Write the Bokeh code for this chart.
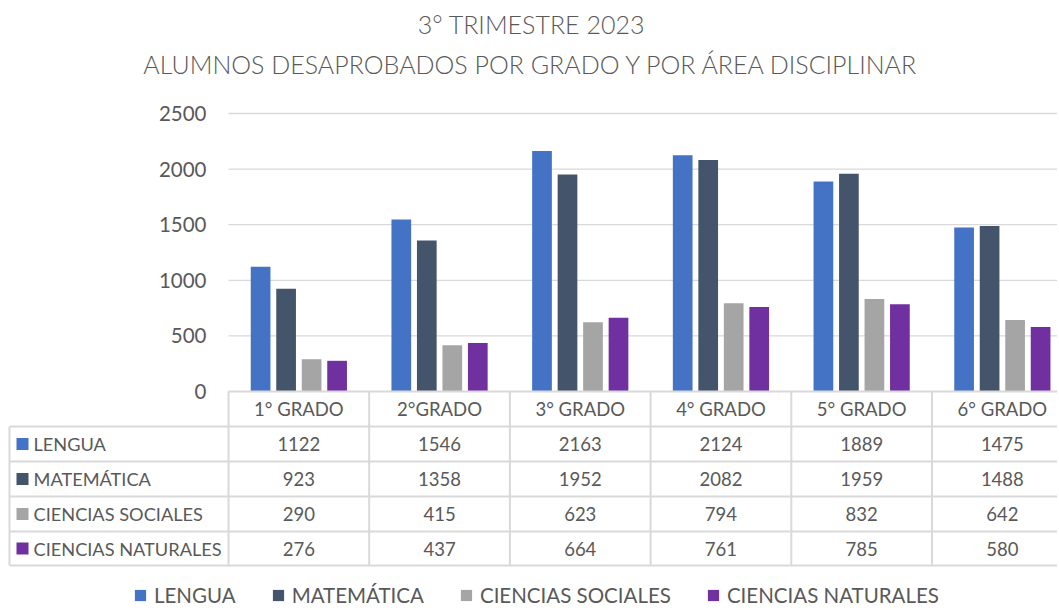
from bokeh.plotting import figure
from bokeh.models import Range1d, ColumnDataSource
from bokeh.core.properties import value
from bokeh.embed import file_html
from bokeh.resources import INLINE

# ---------------- data ----------------
title_line1 = "3° TRIMESTRE 2023"
title_line2 = "ALUMNOS DESAPROBADOS POR GRADO Y POR ÁREA DISCIPLINAR"
grades = ["1° GRADO", "2°GRADO", "3° GRADO", "4° GRADO", "5° GRADO", "6° GRADO"]
series_names = ["LENGUA", "MATEMÁTICA", "CIENCIAS SOCIALES", "CIENCIAS NATURALES"]
lengua = [1122, 1546, 2163, 2124, 1889, 1475]
matematica = [923, 1358, 1952, 2082, 1959, 1488]
ciencias_sociales = [290, 415, 623, 794, 832, 642]
ciencias_naturales = [276, 437, 664, 761, 785, 580]
y_ticks = [0, 500, 1000, 1500, 2000, 2500]

series_values = [lengua, matematica, ciencias_sociales, ciencias_naturales]
colors = ["#4472C4", "#44546A", "#A5A5A5", "#7030A0"]

FONT = "Lato"
TXT = "#595959"
LINE = "#D9D9D9"

# ---------------- layout helpers (image pixel -> data) ----------------
FIG_W, FIG_H, OFF = 1057, 608, 0
X0_IMG, COL_W = 228.0, 140.7
ZERO_IMG, TOP_IMG = 391.0, 113.0
PX_PER_UNIT = (ZERO_IMG - TOP_IMG) / 2500.0


def dx(img_x):
    return (img_x - X0_IMG) / COL_W


def dy(img_y):
    return (ZERO_IMG - img_y) / PX_PER_UNIT


p = figure(width=FIG_W, height=FIG_H, output_backend="svg", toolbar_location=None,
           x_range=Range1d(dx(OFF), dx(OFF + FIG_W)),
           y_range=Range1d(dy(OFF + FIG_H), dy(OFF)),
           x_axis_location=None, y_axis_location=None, min_border=0)
p.outline_line_color = None
p.grid.visible = False
p.background_fill_color = "white"

x_end = dx(OFF + FIG_W) + 1

# gridlines
p.segment(x0=[0] * (len(y_ticks) - 1), x1=[x_end] * (len(y_ticks) - 1),
          y0=y_ticks[1:], y1=y_ticks[1:], line_color=LINE, line_width=1.3)

# y tick labels
p.text(x=[dx(206)] * len(y_ticks), y=y_ticks, text=[str(t) for t in y_ticks],
       text_font=value(FONT), text_font_size="20.5px", text_color=TXT,
       text_align="right", text_baseline="middle")

# bars
n = len(grades)
bar_w = 19.7 / COL_W
step = 25.5 / COL_W
for j, (name, vals, c) in enumerate(zip(series_names, series_values, colors)):
    xs = [i + 0.5 + (j - 1.5) * step for i in range(n)]
    src = ColumnDataSource(dict(x=xs, top=vals))
    p.vbar(x="x", top="top", width=bar_w, bottom=0, source=src, fill_color=c,
           line_color=None, legend_label=name)

# data table lines
row_lines_img = [426, 461, 496, 531, 565]
p.segment(x0=[0], x1=[x_end], y0=[0], y1=[0], line_color=LINE, line_width=2)
p.segment(x0=[dx(9)] * len(row_lines_img), x1=[x_end] * len(row_lines_img),
          y0=[dy(v) for v in row_lines_img], y1=[dy(v) for v in row_lines_img],
          line_color=LINE, line_width=2)
p.segment(x0=list(range(n + 1)), x1=list(range(n + 1)),
          y0=[0] * (n + 1), y1=[dy(565)] * (n + 1), line_color=LINE, line_width=2)
p.segment(x0=[dx(9)], x1=[dx(9)], y0=[dy(426)], y1=[dy(565)], line_color=LINE, line_width=2)

# category labels
p.text(x=[i + 0.5 for i in range(n)], y=[dy(408)] * n, text=grades,
       text_font=value(FONT), text_font_size="18.5px", text_color=TXT,
       text_align="center", text_baseline="middle")

# rows
row_centers = [(a + b) / 2 for a, b in zip([426] + row_lines_img[1:-1], row_lines_img[1:])]
for j, (name, vals, c) in enumerate(zip(series_names, series_values, colors)):
    yc = dy(row_centers[j])
    p.rect(x=[dx(22)], y=[yc], width=12, height=12, width_units="screen",
           height_units="screen", fill_color=c, line_color=None)
    p.text(x=[dx(33)], y=[yc], text=[name], text_font=value(FONT),
           text_font_size="18.2px", text_color=TXT, text_align="left",
           text_baseline="middle")
    p.text(x=[i + 0.5 for i in range(n)], y=[yc] * n, text=[str(v) for v in vals],
           text_font=value(FONT), text_font_size="18.5px", text_color=TXT,
           text_align="center", text_baseline="middle")

# titles
p.text(x=[dx(531)], y=[dy(23)], text=[title_line1], text_font=value("Lato Light"),
       text_font_size="25px", text_color=TXT, text_align="center", text_baseline="middle")
p.text(x=[dx(531)], y=[dy(63)], text=[title_line2], text_font=value("Lato Light"),
       text_font_size="25px", text_color=TXT, text_align="center", text_baseline="middle")

# legend
lg = p.legend[0]
lg.orientation = "horizontal"
lg.location = (133, 1)
lg.border_line_color = None
lg.background_fill_alpha = 0
lg.padding = 0
lg.margin = 0
lg.spacing = 35
lg.glyph_width = 14
lg.glyph_height = 14
lg.label_standoff = 7
lg.label_height = 14
lg.label_text_font = FONT
lg.label_text_font_size = "20.5px"
lg.label_text_color = TXT

open("out.html", "w").write(file_html(p, INLINE))
